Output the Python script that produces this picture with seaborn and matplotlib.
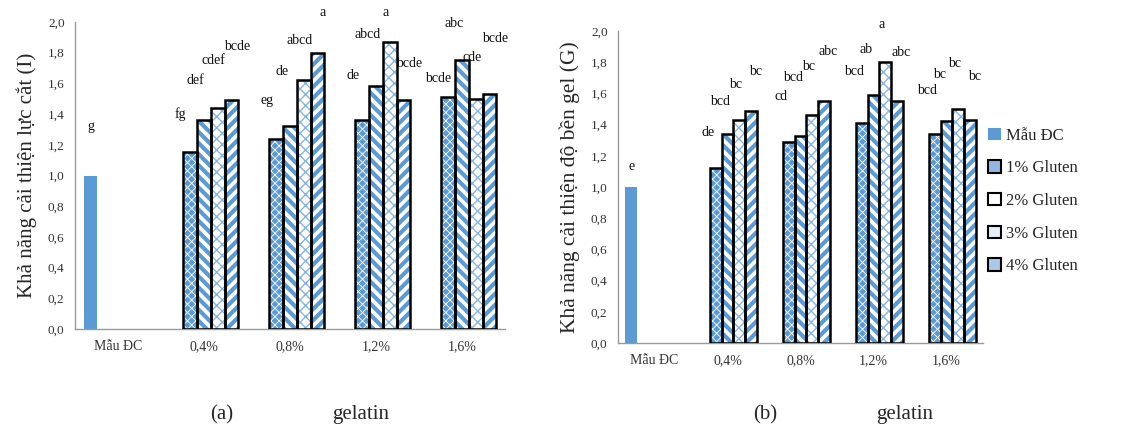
import numpy as np
import pandas as pd
import seaborn as sns
import matplotlib.pyplot as plt
from matplotlib.patches import Patch, Rectangle

# categories and series
categories = ["Mẫu ĐC", "0,4%", "0,8%", "1,2%", "1,6%"]
series = ["Mẫu ĐC", "1% Gluten", "2% Gluten", "3% Gluten", "4% Gluten"]
doses = categories[1:]

# (a) khả năng cải thiện lực cắt (I)
control_a = 1.00
gluten1_a = [1.15, 1.24, 1.36, 1.51]
gluten2_a = [1.36, 1.32, 1.58, 1.75]
gluten3_a = [1.44, 1.62, 1.87, 1.50]
gluten4_a = [1.49, 1.80, 1.49, 1.53]

# (b) khả năng cải thiện độ bền gel (G)
control_b = 1.00
gluten1_b = [1.12, 1.29, 1.41, 1.34]
gluten2_b = [1.34, 1.33, 1.59, 1.42]
gluten3_b = [1.43, 1.46, 1.80, 1.50]
gluten4_b = [1.49, 1.55, 1.55, 1.43]

# significance letters (control first, then per dose: 1%,2%,3%,4%)
letters_ctrl_a = "g"
letters_a = [["fg", "def", "cdef", "bcde"],
             ["eg", "de", "abcd", "a"],
             ["de", "abcd", "a", "bcde"],
             ["bcde", "abc", "cde", "bcde"]]
letter_y_ctrl_a = 1.32
letter_y_a = [[1.40, 1.62, 1.75, 1.84],
              [1.49, 1.68, 1.88, 2.06],
              [1.65, 1.92, 2.06, 1.73],
              [1.63, 1.99, 1.77, 1.89]]

letters_ctrl_b = "e"
letters_b = [["de", "bcd", "bc", "bc"],
             ["cd", "bcd", "bc", "abc"],
             ["bcd", "ab", "a", "abc"],
             ["bcd", "bc", "bc", "bc"]]
letter_y_ctrl_b = 1.13
letter_y_b = [[1.35, 1.55, 1.66, 1.74],
              [1.58, 1.70, 1.77, 1.87],
              [1.74, 1.88, 2.04, 1.86],
              [1.62, 1.72, 1.79, 1.71]]

BLUE = "#5b9bd5"
# per series: facecolor, hatch, hatch colour, hatch width
styles = [
    (BLUE, None, BLUE, 0.0),
    (BLUE, "xxxx", "white", 0.6),
    ("white", "\\\\\\", BLUE, 3.0),
    ("white", "xxx", "#86b4e2", 1.0),
    ("white", "///", BLUE, 3.0),
]
label_shift = [0.0, -0.7, -0.6, -0.3, 0.4]


def make_df(control, g1, g2, g3, g4):
    rows = [{"cat": categories[0], "series": series[0], "val": control}]
    for s, vals in zip(series[1:], [g1, g2, g3, g4]):
        for d, v in zip(doses, vals):
            rows.append({"cat": d, "series": s, "val": v})
    return pd.DataFrame(rows)


def draw(ax, df, ylabel, letters_ctrl, letters, ly_ctrl, ly, ylab_size):
    sns.barplot(data=df, x="cat", y="val", hue="series", order=categories,
                hue_order=series, errorbar=None, width=0.8, legend=False,
                saturation=1, ax=ax)
    nser = len(series)
    bw = 0.8 / nser
    for p in list(ax.patches):
        if p.get_height() <= 0 or np.isnan(p.get_height()):
            continue
        xc = p.get_x() + p.get_width() / 2
        ci = int(round(xc))
        si = int(round((xc - ci + 0.4) / bw - 0.5))
        fc, hatch, hc, hlw = styles[si]
        p.set_facecolor(fc)
        p.set_edgecolor(hc)
        p.set_linewidth(0)
        if hatch:
            p.set_hatch(hatch)
            try:
                p.set_hatch_linewidth(hlw)
            except AttributeError:
                p._hatch_linewidth = hlw
            ax.add_patch(Rectangle(p.get_xy(), p.get_width(), p.get_height(),
                                   fill=False, ec="black", lw=1.8, zorder=3))
        if si == 0:
            txt, y = letters_ctrl, ly_ctrl
        else:
            txt, y = letters[ci - 1][si - 1], ly[ci - 1][si - 1]
        ax.text(xc + label_shift[si] * p.get_width(), y, txt, ha="center",
                va="center", fontsize=10, color="#111111")

    ax.set_ylim(0, 2.0)
    ax.set_xlim(-0.5, len(categories) - 0.5)
    yt = np.arange(0, 2.01, 0.2)
    ax.set_yticks(yt)
    ax.set_yticklabels([f"{v:.1f}".replace(".", ",") for v in yt])
    ax.set_xticks(range(len(categories)))
    ax.set_xticklabels(categories)
    ax.set_xticks(np.arange(-0.5, len(categories), 1.0), minor=True)
    ax.tick_params(axis="x", which="major", length=0, pad=8, labelsize=10,
                   colors="#333333")
    ax.tick_params(axis="x", which="minor", length=5, color="#9a9a9a",
                   direction="out")
    ax.tick_params(axis="y", length=4, color="#9a9a9a", labelsize=9.5,
                   colors="#333333", direction="out")
    ax.tick_params(axis="y", color="#9a9a9a")
    ax.set_xlabel("")
    ax.set_ylabel(ylabel, fontsize=ylab_size, labelpad=8)
    sns.despine(ax=ax)
    for sp in ["left", "bottom"]:
        ax.spines[sp].set_color("#9a9a9a")
        ax.spines[sp].set_linewidth(1.0)


sns.set_theme(style="white")
plt.rcParams["font.family"] = ["Liberation Serif", "DejaVu Serif"]

fig = plt.figure(figsize=(11.43, 4.30), dpi=100)
ax1 = fig.add_axes([75 / 1143, 101 / 430, 430 / 1143, 307 / 430])
ax2 = fig.add_axes([618 / 1143, 87 / 430, 365 / 1143, 312 / 430])

draw(ax1, make_df(control_a, gluten1_a, gluten2_a, gluten3_a, gluten4_a),
     "Khả năng cải thiện lực cắt (I)", letters_ctrl_a, letters_a,
     letter_y_ctrl_a, letter_y_a, 15)
draw(ax2, make_df(control_b, gluten1_b, gluten2_b, gluten3_b, gluten4_b),
     "Khả năng cải thiện độ bền gel (G)", letters_ctrl_b, letters_b,
     letter_y_ctrl_b, letter_y_b, 15.5)

# legend
legend_faces = [BLUE, "#8fb8e3", "white", "#e4eef9", "#a9c9ea"]
handles = [Patch(facecolor=legend_faces[0], edgecolor="none")]
for fc in legend_faces[1:]:
    handles.append(Patch(facecolor=fc, edgecolor="black", linewidth=1.5))
fig.legend(handles, series, loc="center left",
           bbox_to_anchor=(988 / 1143, 1 - 201 / 430), frameon=False,
           fontsize=12, handlelength=0.75, handleheight=0.75,
           handletextpad=0.3, labelspacing=1.0, borderpad=0, borderaxespad=0)

# captions
cap_y = 1 - 415 / 430
fig.text(222 / 1143, cap_y, "(a)", ha="center", va="center", fontsize=15)
fig.text(361 / 1143, cap_y, "gelatin", ha="center", va="center", fontsize=15)
fig.text(765 / 1143, cap_y, "(b)", ha="center", va="center", fontsize=15)
fig.text(905 / 1143, cap_y, "gelatin", ha="center", va="center", fontsize=15)

fig.savefig("out.png", dpi=100)
